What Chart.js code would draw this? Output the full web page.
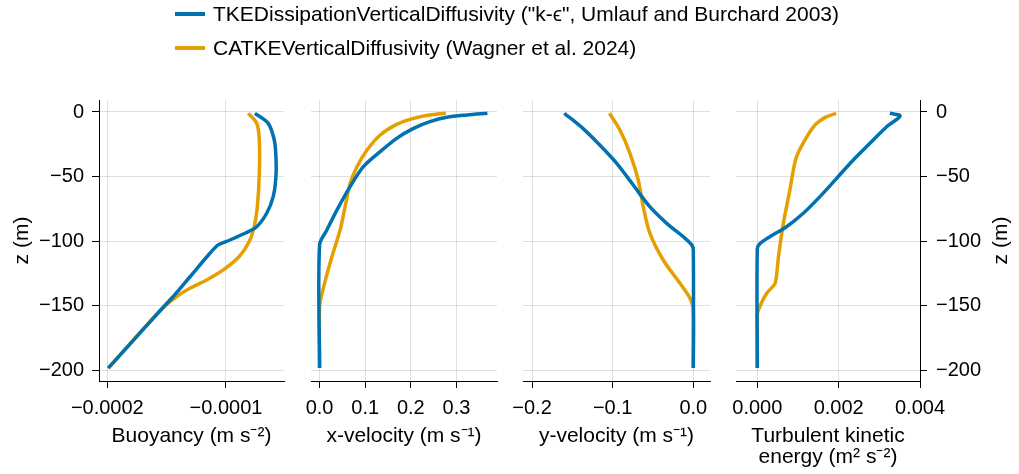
<!DOCTYPE html>
<html>
<head>
<meta charset="utf-8">
<script src="https://cdn.jsdelivr.net/npm/chart.js@4.4.1/dist/chart.umd.min.js"></script>
<style>
html,body{margin:0;padding:0;background:#fff;}
#wrap{position:relative;width:1019px;height:474px;overflow:hidden;font-family:'Liberation Sans',Arial,Helvetica,sans-serif;}
#wrap canvas{position:absolute;left:0;top:0;}
.leg{position:absolute;left:175px;height:34px;display:flex;align-items:center;font-size:21px;color:#000;white-space:nowrap;}
.leg .sw{display:inline-block;width:30px;height:3.5px;margin-right:8px;}
</style>
</head>
<body>
<div id="wrap">
  <canvas id="c1" width="1019" height="474"></canvas>
  <canvas id="c2" width="1019" height="474"></canvas>
  <canvas id="c3" width="1019" height="474"></canvas>
  <canvas id="c4" width="1019" height="474"></canvas>
</div>
<script>
// ---------------- DATA ----------------
const seriesNames = [
  'TKEDissipationVerticalDiffusivity ("k-ϵ", Umlauf and Burchard 2003)',
  'CATKEVerticalDiffusivity (Wagner et al. 2024)'
];

// Buoyancy (m s^-2)
const zBuoyancyKE = [-1, -8.8, -21.7, -34.6, -50, -65.6, -78.5, -88.9, -94, -99.2, -103, -109.5, -127.7, -143, -153.5, -198.5];
const buoyancyKE  = [-7.56e-5, -6.44e-5, -5.93e-5, -5.79e-5, -5.79e-5, -6.02e-5, -6.57e-5, -7.41e-5, -8.40e-5, -9.66e-5, -1.065e-4, -1.135e-4, -1.303e-4, -1.444e-4, -1.550e-4, -1.992e-4];
const zBuoyancyCATKE = [-1, -8.8, -21.7, -48, -73.9, -88.9, -99.2, -112, -122.4, -130.2, -136.6, -143, -153.5, -198.5];
const buoyancyCATKE  = [-8.12e-5, -7.41e-5, -7.19e-5, -7.19e-5, -7.36e-5, -7.62e-5, -7.98e-5, -8.88e-5, -1.023e-4, -1.163e-4, -1.303e-4, -1.415e-4, -1.550e-4, -1.992e-4];

// x-velocity (m s^-1)
const zUKE = [-1, -2.3, -4.1, -7.5, -12.7, -20.4, -30.7, -42.4, -57.9, -76, -91.5, -103, -198.5];
const uKE  = [0.368, 0.323, 0.279, 0.242, 0.206, 0.169, 0.133, 0.096, 0.067, 0.038, 0.016, 0, 0];
const zUCATKE = [-1, -2.3, -4.9, -9.6, -17.8, -29.5, -42.4, -55.3, -73.4, -91.5, -112.2, -135.4, -151, -198.5];
const uCATKE  = [0.277, 0.242, 0.206, 0.169, 0.133, 0.104, 0.082, 0.067, 0.056, 0.045, 0.027, 0.009, 0, 0];

// y-velocity (m s^-1)
const zVKE = [-1, -12.7, -25.6, -39.8, -56.6, -73.4, -86.3, -96.7, -103, -107, -198.5];
const vKE  = [-0.160, -0.137, -0.116, -0.095, -0.0745, -0.054, -0.033, -0.0124, -0.002, 0, 0];
const zVCATKE = [-1, -14, -32, -52.7, -73.4, -94, -114.7, -132.8, -144.4, -153.5, -198.5];
const vCATKE  = [-0.104, -0.091, -0.0786, -0.0683, -0.0621, -0.0538, -0.0373, -0.0165, -0.0041, 0, 0];

// Turbulent kinetic energy (m^2 s^-2)
const zTkeKE = [-1, -3.1, -11.4, -24.3, -37.2, -51.4, -65.6, -78.5, -88.9, -96.7, -101.8, -105.7, -198.5];
const tkeKE  = [0.00326, 0.00351, 0.00318, 0.00277, 0.00236, 0.00195, 0.00154, 0.00113, 0.00072, 0.00031, 0.00007, 0, 0];
const zTkeCATKE = [-1, -3.6, -8.8, -19.1, -35.9, -60.5, -86.3, -112.2, -132.8, -140.5, -153.5, -158, -198.5];
const tkeCATKE  = [0.00194, 0.00171, 0.00146, 0.00122, 0.00095, 0.00080, 0.00064, 0.00052, 0.00044, 0.00023, 0.000025, 0, 0];

// Ticks
const zTicks = [-200, -150, -100, -50, 0];
const zTickLabels = ['−200', '−150', '−100', '−50', '0'];
const buoyancyTicks = [-0.0002, -0.0001];
const buoyancyTickLabels = ['−0.0002', '−0.0001'];
const uTicks = [0, 0.1, 0.2, 0.3];
const uTickLabels = ['0.0', '0.1', '0.2', '0.3'];
const vTicks = [-0.2, -0.1, 0];
const vTickLabels = ['−0.2', '−0.1', '0.0'];
const tkeTicks = [0, 0.002, 0.004];
const tkeTickLabels = ['0.000', '0.002', '0.004'];

// ---------------- STYLE ----------------
const COLORS = ['#0072B2', '#E69F00'];
const GRID = 'rgba(0,0,0,0.12)';
const FONT = "'Liberation Sans', Arial, Helvetica, sans-serif";
Chart.defaults.font.family = FONT;
Chart.defaults.font.size = 20;
Chart.defaults.color = '#000';

function pts(zs, vs) { return zs.map((z, i) => ({ x: vs[i], y: z })); }

const rightTitle = {
  id: 'rightTitle',
  afterDraw(chart) {
    const { ctx, chartArea: a } = chart;
    ctx.save();
    ctx.font = '21px ' + FONT;
    ctx.fillStyle = '#000';
    ctx.textAlign = 'center';
    ctx.textBaseline = 'middle';
    ctx.translate(a.right + 81, (a.top + a.bottom) / 2);
    ctx.rotate(-Math.PI / 2);
    ctx.fillText('z (m)', 0, 0);
    ctx.restore();
  }
};

function makePanel(id, p) {
  const showY = p.ySide !== 'none';
  const datasets = p.series.map((s, i) => ({
    label: seriesNames[i],
    data: pts(s[0], s[1]),
    borderColor: COLORS[i],
    backgroundColor: COLORS[i],
    borderWidth: 3.5,
    pointRadius: 0,
    tension: s[2] !== undefined ? s[2] : 0.3,
    showLine: true,
    fill: false
  }));
  return new Chart(document.getElementById(id), {
    type: 'scatter',
    data: { datasets },
    plugins: p.ySide === 'right' ? [rightTitle] : [],
    options: {
      responsive: false,
      animation: false,
      events: [],
      layout: { padding: { left: p.padLeft, right: p.padRight, top: 100, bottom: 0 } },
      plugins: { legend: { display: false }, tooltip: { enabled: false } },
      scales: {
        x: {
          type: 'linear', position: 'bottom', min: p.xMin, max: p.xMax,
          afterBuildTicks: s => { s.ticks = p.xTicks.map(v => ({ value: v })); },
          afterFit: s => { s.height = 93; },
          grid: { color: GRID, lineWidth: 1, drawTicks: true, tickLength: 7, tickColor: '#000', tickWidth: 1 },
          border: { display: true, color: '#000', width: 1 },
          ticks: { padding: 8, maxRotation: 0, minRotation: 0, autoSkip: false, callback: (v, i) => p.xLabels[i] },
          title: { display: true, text: p.xTitle, padding: { top: 0, bottom: p.titlePad }, font: { size: 21, lineHeight: 1.03 } }
        },
        y: {
          type: 'linear', position: p.ySide === 'right' ? 'right' : 'left', min: -208.5, max: 9.3,
          afterBuildTicks: s => { s.ticks = zTicks.map(v => ({ value: v })); },
          afterFit: s => { s.width = p.yWidth; },
          grid: { color: GRID, lineWidth: 1, drawTicks: showY, tickLength: 7, tickColor: '#000', tickWidth: 1 },
          border: { display: showY, color: '#000', width: 1 },
          ticks: { display: showY, padding: p.ySide === 'right' ? 9 : 8, autoSkip: false, callback: (v, i) => zTickLabels[i] },
          title: { display: p.ySide === 'left', text: 'z (m)', padding: { top: 10, bottom: 0 }, font: { size: 21, lineHeight: 1.2 } }
        }
      }
    }
  });
}

makePanel('c1', {
  padLeft: 0, padRight: 735, yWidth: 99, ySide: 'left',
  xMin: -2.07e-4, xMax: -5.11e-5, xTicks: buoyancyTicks, xLabels: buoyancyTickLabels,
  xTitle: 'Buoyancy (m s⁻²)', titlePad: 27,
  series: [[zBuoyancyKE, buoyancyKE], [zBuoyancyCATKE, buoyancyCATKE]]
});
makePanel('c2', {
  padLeft: 311, padRight: 522, yWidth: 0, ySide: 'none',
  xMin: -0.0188, xMax: 0.389, xTicks: uTicks, xLabels: uTickLabels,
  xTitle: 'x-velocity (m s⁻¹)', titlePad: 27,
  series: [[zUKE, uKE], [zUCATKE, uCATKE]]
});
makePanel('c3', {
  padLeft: 523, padRight: 309, yWidth: 0, ySide: 'none',
  xMin: -0.2112, xMax: 0.0207, xTicks: vTicks, xLabels: vTickLabels,
  xTitle: 'y-velocity (m s⁻¹)', titlePad: 27,
  series: [[zVKE, vKE], [zVCATKE, vCATKE]]
});
makePanel('c4', {
  padLeft: 736, padRight: 0, yWidth: 99, ySide: 'right',
  xMin: -0.000524, xMax: 0.004, xTicks: tkeTicks, xLabels: tkeTickLabels,
  xTitle: ['Turbulent kinetic', 'energy (m² s⁻²)'], titlePad: 5.5,
  series: [[zTkeKE, tkeKE], [zTkeCATKE, tkeCATKE, 0.2]]
});

// HTML legend built from the series names/colours
const wrap = document.getElementById('wrap');
seriesNames.forEach((name, i) => {
  const row = document.createElement('div');
  row.className = 'leg';
  row.style.top = (14 + 34 * i - 17) + 'px';
  const sw = document.createElement('span');
  sw.className = 'sw';
  sw.style.background = COLORS[i];
  const tx = document.createElement('span');
  tx.textContent = name;
  row.appendChild(sw);
  row.appendChild(tx);
  wrap.appendChild(row);
});
</script>
</body>
</html>
